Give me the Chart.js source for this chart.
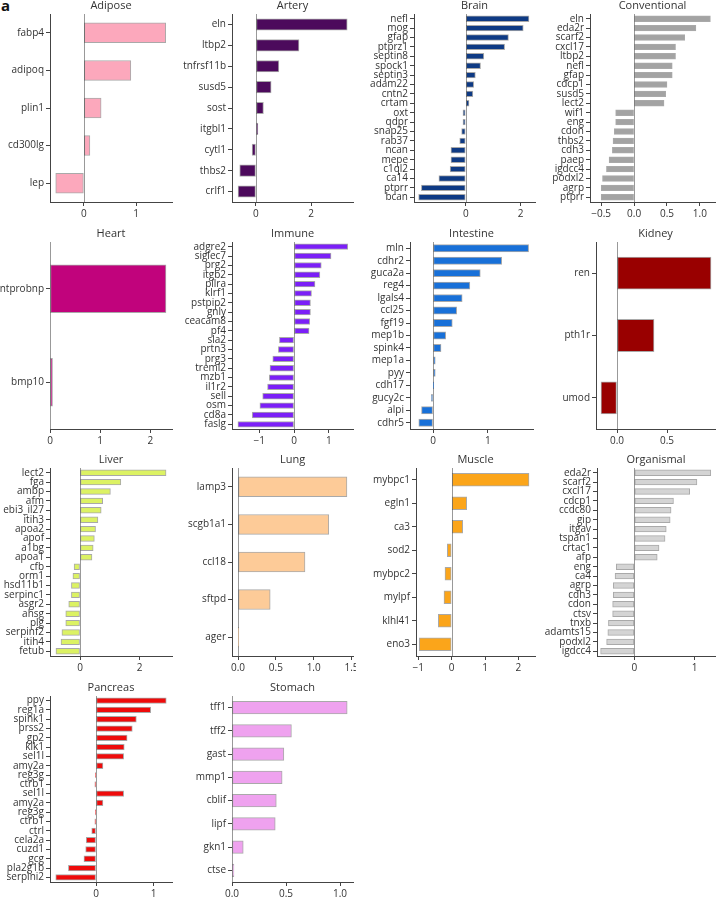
<!DOCTYPE html>
<html>
<head>
<meta charset="utf-8">
<script src="https://cdn.jsdelivr.net/npm/chart.js@4.4.1/dist/chart.umd.min.js"></script>
<style>
  body { margin: 0; background: #fff; width: 718px; height: 899px; position: relative; overflow: hidden; }
  canvas { position: absolute; }
  #tag { position: absolute; left: 1px; top: -5px; font: bold 15px "Open Sans", sans-serif; color: #111; }
</style>
</head>
<body>
<div id="tag">a</div>
<script>
// values, top bar first
const adiposeGenes = ['fabp4', 'adipoq', 'plin1', 'cd300lg', 'lep'];
const adiposeVals = [1.57, 0.90, 0.33, 0.115, -0.54];
const adiposeTicks = ['0', '1'];

const arteryGenes = ['eln', 'ltbp2', 'tnfrsf11b', 'susd5', 'sost', 'itgbl1', 'cytl1', 'thbs2', 'crlf1'];
const arteryVals = [3.31, 1.56, 0.83, 0.55, 0.27, 0.07, -0.14, -0.59, -0.65];
const arteryTicks = ['0', '2'];

const brainGenes = ['nefl', 'mog', 'gfap', 'ptprz1', 'septin8', 'spock1', 'septin3', 'adam22', 'cntn2', 'crtam',
  'oxt', 'qdpr', 'snap25', 'rab37', 'ncan', 'mepe', 'c1ql2', 'ca14', 'ptprr', 'bcan'];
const brainVals = [2.31, 2.10, 1.56, 1.42, 0.66, 0.54, 0.35, 0.29, 0.26, 0.12,
  -0.10, -0.10, -0.15, -0.22, -0.54, -0.54, -0.57, -0.98, -1.62, -1.72];
const brainTicks = ['0', '2'];

const conventionalGenes = ['eln', 'eda2r', 'scarf2', 'cxcl17', 'ltbp2', 'nefl', 'gfap', 'cdcp1', 'susd5', 'lect2',
  'wif1', 'eng', 'cdon', 'thbs2', 'cdh3', 'paep', 'igdcc4', 'podxl2', 'agrp', 'ptprr'];
const conventionalVals = [1.16, 0.94, 0.77, 0.63, 0.63, 0.58, 0.58, 0.50, 0.48, 0.455,
  -0.28, -0.28, -0.30, -0.32, -0.33, -0.38, -0.42, -0.48, -0.50, -0.50];
const conventionalTicks = ['-0.5', '0.0', '0.5', '1.0'];

const heartGenes = ['ntprobnp', 'bmp10'];
const heartVals = [2.31, 0.05];
const heartTicks = ['0', '1', '2'];

const immuneGenes = ['adgre2', 'siglec7', 'prg2', 'itgb2', 'pilra', 'klrf1', 'pstpip2', 'gnly', 'ceacam8', 'pf4',
  'sla2', 'prtn3', 'prg3', 'treml2', 'mzb1', 'il1r2', 'sell', 'osm', 'cd8a', 'faslg'];
const immuneVals = [1.54, 1.06, 0.78, 0.74, 0.60, 0.50, 0.47, 0.47, 0.45, 0.43,
  -0.42, -0.45, -0.61, -0.69, -0.71, -0.76, -0.90, -0.98, -1.20, -1.61];
const immuneTicks = ['-1', '0', '1'];

const intestineGenes = ['mln', 'cdhr2', 'guca2a', 'reg4', 'lgals4', 'ccl25', 'fgf19', 'mep1b', 'spink4', 'mep1a',
  'pyy', 'cdh17', 'gucy2c', 'alpi', 'cdhr5'];
const intestineVals = [1.74, 1.25, 0.86, 0.67, 0.53, 0.43, 0.35, 0.23, 0.145, 0.04,
  0.04, 0.005, -0.03, -0.21, -0.26];
const intestineTicks = ['0', '1'];

const kidneyGenes = ['ren', 'pth1r', 'umod'];
const kidneyVals = [0.94, 0.37, -0.16];
const kidneyTicks = ['0.0', '0.5'];

const liverGenes = ['lect2', 'fga', 'ambp', 'afm', 'ebi3_il27', 'itih3', 'apoa2', 'apof', 'a1bg', 'apoa1',
  'cfb', 'orm1', 'hsd11b1', 'serpinc1', 'asgr2', 'ahsg', 'plg', 'serpinf2', 'itih4', 'fetub'];
const liverVals = [2.89, 1.37, 1.02, 0.76, 0.71, 0.60, 0.52, 0.48, 0.44, 0.40,
  -0.20, -0.24, -0.29, -0.29, -0.38, -0.48, -0.48, -0.61, -0.64, -0.81];
const liverTicks = ['0', '2'];

const lungGenes = ['lamp3', 'scgb1a1', 'ccl18', 'sftpd', 'ager'];
const lungVals = [1.44, 1.20, 0.885, 0.425, 0.01];
const lungTicks = ['0.0', '0.5', '1.0', '1.5'];

const muscleGenes = ['mybpc1', 'egln1', 'ca3', 'sod2', 'mybpc2', 'mylpf', 'klhl41', 'eno3'];
const muscleVals = [2.32, 0.45, 0.33, -0.13, -0.20, -0.23, -0.40, -0.97];
const muscleTicks = ['-1', '0', '1', '2'];

const organismalGenes = ['eda2r', 'scarf2', 'cxcl17', 'cdcp1', 'ccdc80', 'gip', 'itgav', 'tspan1', 'crtac1', 'afp',
  'eng', 'ca4', 'agrp', 'cdh3', 'cdon', 'ctsv', 'tnxb', 'adamts15', 'podxl2', 'igdcc4'];
const organismalVals = [1.27, 1.04, 0.92, 0.65, 0.61, 0.595, 0.53, 0.51, 0.41, 0.38,
  -0.30, -0.32, -0.35, -0.35, -0.36, -0.36, -0.43, -0.44, -0.46, -0.56];
const organismalTicks = ['0', '1'];

const pancreasGenes = ['ppy', 'reg1a', 'spink1', 'prss2', 'gp2', 'klk1', 'sel1l', 'amy2a', 'reg3g', 'ctrb1',
  'sel1l', 'amy2a', 'reg3g', 'ctrb1', 'ctrl', 'cela2a', 'cuzd1', 'gcg', 'pla2g1b', 'serpini2'];
const pancreasVals = [1.22, 0.95, 0.70, 0.63, 0.54, 0.49, 0.48, 0.12, -0.01, -0.02,
  0.48, 0.12, -0.01, -0.02, -0.075, -0.17, -0.18, -0.21, -0.48, -0.70];
const pancreasTicks = ['0', '1'];

const stomachGenes = ['tff1', 'tff2', 'gast', 'mmp1', 'cblif', 'lipf', 'gkn1', 'ctse'];
const stomachVals = [1.066, 0.55, 0.48, 0.464, 0.41, 0.40, 0.104, 0.018];
const stomachTicks = ['0.0', '0.5', '1.0'];

// plot boxes [left, top, right, bottom] in page pixels and x range
const panels = [
  { title: 'Adipose', genes: adiposeGenes, vals: adiposeVals, ticks: adiposeTicks, color: '#fca8bc', box: [50, 14, 172, 202], min: -0.65, max: 1.69 },
  { title: 'Artery', genes: arteryGenes, vals: arteryVals, ticks: arteryTicks, color: '#4c0a5c', box: [232, 14, 353, 202], min: -0.87, max: 3.52 },
  { title: 'Brain', genes: brainGenes, vals: brainVals, ticks: brainTicks, color: '#0e3a84', box: [414, 14, 535, 202], min: -1.89, max: 2.53 },
  { title: 'Conventional', genes: conventionalGenes, vals: conventionalVals, ticks: conventionalTicks, color: '#a3a3a3', box: [590, 14, 715, 202], min: -0.67, max: 1.23 },
  { title: 'Heart', genes: heartGenes, vals: heartVals, ticks: heartTicks, color: '#c1037c', box: [50, 242, 172, 429], min: 0, max: 2.43 },
  { title: 'Immune', genes: immuneGenes, vals: immuneVals, ticks: immuneTicks, color: '#7b1ff7', box: [232, 242, 353, 429], min: -1.78, max: 1.69 },
  { title: 'Intestine', genes: intestineGenes, vals: intestineVals, ticks: intestineTicks, color: '#1870d8', box: [410, 242, 533, 429], min: -0.42, max: 1.82 },
  { title: 'Kidney', genes: kidneyGenes, vals: kidneyVals, ticks: kidneyTicks, color: '#990000', box: [596, 242, 715, 429], min: -0.21, max: 0.98 },
  { title: 'Liver', genes: liverGenes, vals: liverVals, ticks: liverTicks, color: '#dcf263', box: [50, 468, 172, 656], min: -1.01, max: 3.09 },
  { title: 'Lung', genes: lungGenes, vals: lungVals, ticks: lungTicks, color: '#fdcb98', box: [232, 468, 353, 656], min: -0.08, max: 1.52 },
  { title: 'Muscle', genes: muscleGenes, vals: muscleVals, ticks: muscleTicks, color: '#fba51a', box: [416, 468, 535, 656], min: -1.07, max: 2.5 },
  { title: 'Organismal', genes: organismalGenes, vals: organismalVals, ticks: organismalTicks, color: '#d4d4d4', box: [597, 468, 715, 656], min: -0.62, max: 1.34 },
  { title: 'Pancreas', genes: pancreasGenes, vals: pancreasVals, ticks: pancreasTicks, color: '#ee0b0b', box: [50, 696, 172, 882], min: -0.80, max: 1.32 },
  { title: 'Stomach', genes: stomachGenes, vals: stomachVals, ticks: stomachTicks, color: '#efa2ef', box: [232, 696, 353, 882], min: 0, max: 1.12 },
];

const YW = 80, TOP = 22, BOT = 22, RP = 3;
const FONT = '"Open Sans", sans-serif';
const TXT = '#333';

// zero line + title centred over the plot area
const panelDeco = {
  id: 'panelDeco',
  beforeDatasetsDraw(chart, args, opts) {
    const { ctx, chartArea: a, scales: { x } } = chart;
    const x0 = Math.round(x.getPixelForValue(0)) + 0.5;
    ctx.save();
    ctx.strokeStyle = '#999';
    ctx.lineWidth = 1;
    ctx.beginPath();
    ctx.moveTo(x0, a.top);
    ctx.lineTo(x0, a.bottom);
    ctx.stroke();
    ctx.fillStyle = TXT;
    ctx.font = '11px ' + FONT;
    ctx.textAlign = 'center';
    ctx.textBaseline = 'middle';
    ctx.fillText(opts.title, (a.left + a.right) / 2, a.top - 8);
    ctx.restore();
  }
};

function num(s) { return parseFloat(s.replace('−', '-')); }

panels.forEach(p => {
  const [l, t, r, b] = p.box;
  const w = r - l + YW + RP, h = b - t + TOP + BOT;
  const c = document.createElement('canvas');
  c.width = w; c.height = h;
  c.style.left = (l - YW) + 'px';
  c.style.top = (t - TOP) + 'px';
  c.style.width = w + 'px';
  c.style.height = h + 'px';
  document.body.appendChild(c);

  // half the category band plus the outline, like a matplotlib barh with edges
  const thick = (b - t) / p.genes.length * 0.5 + 1;

  new Chart(c, {
    type: 'bar',
    data: {
      labels: p.genes,
      datasets: [{
        data: p.vals,
        backgroundColor: p.color,
        borderColor: 'rgba(40,40,40,0.4)',
        borderWidth: 1,
        borderSkipped: false,
        barThickness: thick,
      }]
    },
    options: {
      indexAxis: 'y',
      responsive: false,
      animation: false,
      events: [],
      layout: { padding: { top: TOP, right: RP, bottom: 0, left: 0 } },
      plugins: {
        legend: { display: false },
        tooltip: { enabled: false },
        panelDeco: { title: p.title },
      },
      scales: {
        x: {
          type: 'linear',
          min: p.min,
          max: p.max,
          afterBuildTicks: s => { s.ticks = p.ticks.map(v => ({ value: num(v) })); },
          afterFit: s => { s.height = BOT; s.paddingLeft = 0; s.paddingRight = 0; },
          ticks: {
            autoSkip: false, maxRotation: 0, padding: 2,
            color: TXT, font: { family: FONT, size: 10 },
            callback: (v, i) => p.ticks[i].replace('-', '−'),
          },
          grid: { drawOnChartArea: false, drawTicks: true, tickLength: 4, color: '#444' },
          border: { display: true, color: '#444', width: 1 },
        },
        y: {
          type: 'category',
          afterFit: s => { s.width = YW; s.paddingTop = 0; s.paddingBottom = 0; },
          ticks: { autoSkip: false, padding: 2, color: TXT, font: { family: FONT, size: 10 } },
          grid: { offset: false, drawOnChartArea: false, drawTicks: true, tickLength: 4, color: '#444' },
          border: { display: true, color: '#444', width: 1 },
        }
      }
    },
    plugins: [panelDeco]
  });
});
</script>
</body>
</html>
